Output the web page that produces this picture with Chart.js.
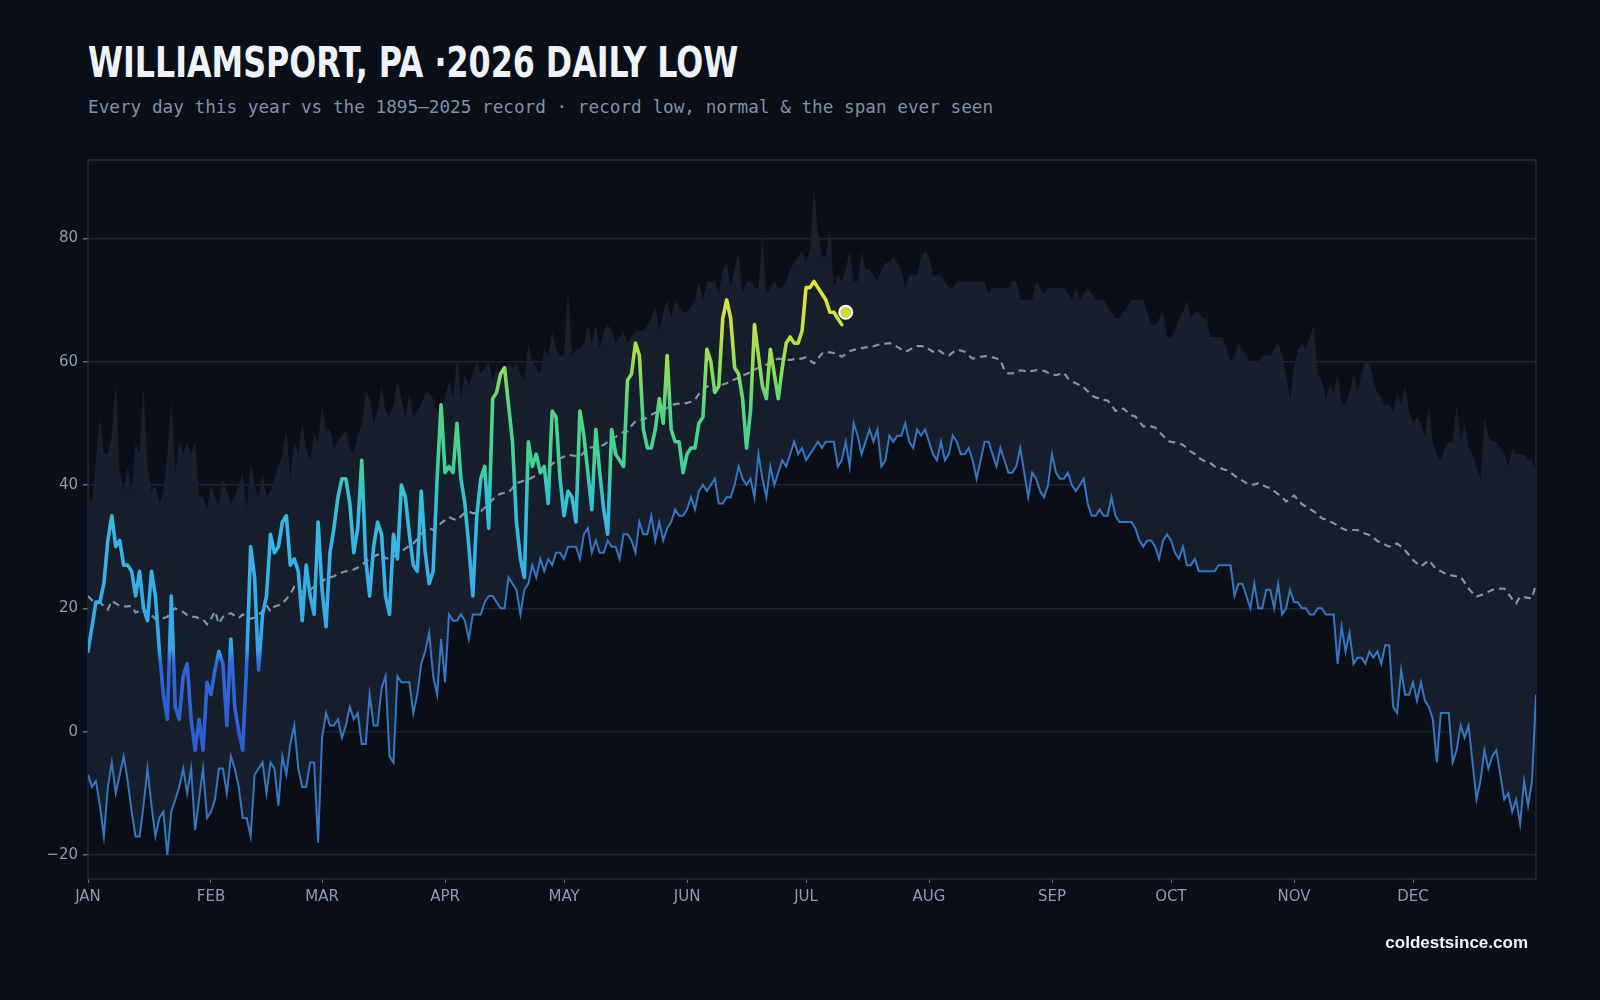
<!DOCTYPE html>
<html lang="en">
<head>
<meta charset="UTF-8">
<title>Williamsport, PA 2026 daily low</title>
<script src="https://cdn.jsdelivr.net/npm/chart.js@4.4.1/dist/chart.umd.min.js"></script>
<style>
    html, body {
        margin: 0;
        padding: 0;
        background: #0a0e16;
        width: 1600px;
        height: 1000px;
        overflow: hidden;
    }
    #title {
        position: absolute;
        left: 88px;
        top: 41px;
        margin: 0;
        font-family: "DejaVu Sans Condensed", "DejaVu Sans", sans-serif;
        font-weight: 700;
        font-size: 42px;
        line-height: 43px;
        color: #eef3fa;
        white-space: nowrap;
        transform-origin: 0 0;
    }
    #subtitle {
        position: absolute;
        left: 88px;
        top: 97px;
        margin: 0;
        font-family: "DejaVu Sans Mono", monospace;
        font-size: 17.7px;
        line-height: 20px;
        color: #7f92a9;
        white-space: nowrap;
    }
    #source {
        position: absolute;
        right: 72px;
        top: 933px;
        font-family: "Liberation Sans", Arial, sans-serif;
        font-weight: 700;
        font-size: 17px;
        line-height: 20px;
        color: #f2f5fa;
    }
    #chart {
        position: absolute;
        left: 0;
        top: 0;
    }
</style>
</head>
<body>
<h1 id="title">WILLIAMSPORT, PA ·2026 DAILY LOW</h1>
<p id="subtitle">Every day this year vs the 1895–2025 record · record low, normal &amp; the span ever seen</p>
<canvas id="chart" width="1600" height="1000"></canvas>
<div id="source">coldestsince.com</div>

<script>
    // x axis: day of year, 0 = Jan 1
    const monthLabels = ['JAN', 'FEB', 'MAR', 'APR', 'MAY', 'JUN', 'JUL', 'AUG', 'SEP', 'OCT', 'NOV', 'DEC'];
    const monthStarts = [0, 31, 59, 90, 120, 151, 181, 212, 243, 273, 304, 334];
    const yTicks = [-20, 0, 20, 40, 60, 80];

    // highest daily low ever seen, 1895-2025 (one value per day)
    const recordHigh = [
        38, 37, 44, 51, 45, 45, 48, 57, 42, 39, 43, 39, 47, 45, 56, 43, 39, 40, 37, 39, 45, 54, 42, 47, 45, 47, 45, 47, 38, 38, 36,
        40, 38, 37, 41, 39, 37, 38, 40, 42, 36, 44, 40, 38, 42, 38, 39, 41, 43, 45, 49, 41, 47, 45, 50, 46, 44, 48, 47,
        53, 49, 49, 46, 47, 48, 49, 46, 45, 48, 50, 55, 54, 50, 52, 56, 52, 51, 53, 57, 54, 51, 55, 51, 52, 53, 55, 55, 54, 52, 52,
        54, 57, 54, 61, 54, 58, 56, 58, 60, 58, 59, 60, 57, 59, 57, 59, 60, 59, 60, 58, 57, 63, 60, 59, 58, 62, 61, 65, 62, 61,
        61, 72, 61, 62, 62, 63, 66, 63, 66, 62, 65, 66, 65, 63, 64, 65, 63, 64, 65, 65, 65, 66, 67, 69, 65, 68, 70, 67, 70, 69, 68,
        68, 69, 70, 73, 70, 73, 73, 73, 71, 75, 76, 72, 75, 78, 71, 73, 73, 72, 72, 80, 71, 72, 73, 72, 72, 73, 75, 76, 77, 78,
        76, 78, 88, 81, 77, 77, 82, 72, 74, 73, 75, 78, 73, 73, 78, 75, 75, 74, 73, 75, 76, 76, 77, 76, 75, 72, 74, 74, 74, 77, 78,
        77, 74, 74, 74, 73, 72, 72, 73, 73, 73, 73, 73, 73, 73, 73, 71, 72, 72, 72, 72, 72, 73, 73, 70, 70, 70, 70, 73, 72, 71, 72,
        72, 72, 72, 72, 71, 70, 72, 70, 71, 72, 71, 70, 70, 70, 69, 68, 67, 67, 68, 69, 70, 70, 70, 70, 68, 66, 66, 67, 68, 64,
        64, 65, 67, 68, 70, 67, 68, 68, 67, 67, 64, 64, 64, 64, 62, 60, 61, 63, 62, 61, 60, 60, 60, 61, 61, 61, 62, 63, 61, 58, 54,
        59, 62, 63, 62, 64, 66, 58, 57, 54, 56, 55, 58, 53, 53, 55, 58, 55, 58, 60, 60, 57, 55, 54, 53, 53, 52, 55, 53, 56, 52,
        50, 51, 50, 48, 53, 47, 45, 44, 46, 47, 47, 53, 47, 50, 46, 45, 43, 41, 51, 48, 47, 47, 46, 45, 43, 46, 45, 45, 45, 44, 44, 42
    ];

    // lowest daily low ever seen, 1895-2025
    const recordLow = [
        -7, -9, -8, -12, -17, -9, -5, -10, -7, -4, -8, -13, -17, -17, -12, -6, -12, -17, -14, -13, -20, -13, -11, -9, -6, -10, -6, -16, -11, -6, -14,
        -13, -11, -6, -6, -10, -4, -6, -9, -14, -14, -17, -7, -6, -5, -10, -5, -6, -12, -4, -7, -2, 1, -6, -9, -9, -5, -5, -18,
        -1, 3, 1, 1, 2, -1, 1, 4, 2, 3, -2, -2, 6, 1, 1, 7, 9, -4, -5, 9, 8, 8, 8, 3, 6, 11, 13, 16, 9, 6, 15,
        8, 19, 18, 18, 19, 18, 15, 19, 19, 19, 21, 22, 22, 21, 20, 20, 25, 24, 23, 19, 23, 24, 27, 25, 28, 26, 28, 27, 29, 29,
        28, 30, 30, 30, 28, 32, 33, 29, 31, 29, 29, 31, 30, 30, 28, 32, 32, 31, 29, 34, 32, 32, 35, 31, 34, 31, 33, 34, 36, 35, 35,
        36, 38, 36, 39, 40, 39, 40, 41, 37, 37, 38, 38, 40, 43, 41, 40, 41, 38, 45, 41, 38, 43, 40, 42, 44, 43, 45, 47, 45, 46,
        44, 45, 46, 47, 46, 47, 47, 47, 43, 44, 47, 43, 50, 48, 45, 47, 49, 47, 49, 43, 44, 48, 47, 48, 48, 50, 47, 46, 49, 48, 49,
        47, 45, 44, 47, 44, 45, 48, 47, 45, 45, 46, 44, 41, 44, 47, 47, 45, 43, 46, 44, 42, 42, 43, 46, 42, 38, 42, 41, 39, 38, 40,
        45, 42, 41, 41, 42, 40, 39, 40, 41, 37, 35, 35, 36, 35, 35, 38, 35, 34, 34, 34, 34, 33, 31, 30, 31, 31, 30, 28, 31, 32,
        31, 29, 28, 30, 27, 27, 28, 26, 26, 26, 26, 26, 27, 27, 27, 27, 22, 24, 24, 22, 20, 24, 20, 20, 23, 23, 20, 24, 19, 20, 23,
        21, 21, 20, 20, 19, 19, 20, 20, 19, 19, 19, 11, 17, 13, 16, 11, 12, 12, 11, 13, 12, 13, 11, 14, 14, 4, 3, 10, 6, 6,
        8, 5, 8, 5, 4, 2, -5, 3, 3, 3, -5, -3, 1, -1, 1, -5, -11, -8, -3, -6, -4, -3, -7, -11, -10, -13, -11, -15, -8, -12, -8, 6
    ];

    // normal daily low
    const normalLow = [
        22, 21.3, 21.2, 21, 20.3, 19.8, 21.2, 20.8, 20.4, 20.3, 20.3, 20.4, 19.3, 19.6, 20, 19.2, 18.9, 18.3, 18.3, 18.4, 18.6, 19.5, 20, 19.6, 19.4, 18.9, 18.6, 18.6, 18.4, 18.2, 17.4,
        18.3, 19.5, 17.5, 18.6, 19, 19.2, 18.8, 18.4, 19, 18.6, 18.3, 18.5, 19, 19.5, 20.5, 19.5, 20.3, 20.5, 20.8, 21.5, 22.3, 23.5, 23.2, 22.7, 23, 23, 23.5, 24,
        24.3, 24.9, 25, 25.2, 25.5, 25.8, 26, 26.1, 26.3, 26.6, 27, 27.6, 28, 28.4, 28.7, 28.9, 28.1, 28.1, 28.3, 28.8, 29.2, 29.7, 30.1, 30.5, 31.2, 32, 32.8, 33, 32.7, 33.2, 33.8,
        34.3, 34.8, 34.5, 34.3, 34.9, 35.5, 35.7, 35.4, 35.5, 35.7, 36.3, 37, 37.6, 38.2, 38.6, 38.7, 38.8, 39.5, 40.3, 40.5, 40.7, 40.9, 41.2, 41.6, 41.9, 42.4, 43, 43.4, 43.9, 44.3,
        44.6, 44.9, 44.8, 44.7, 44.6, 45.3, 46, 46.1, 46.2, 46.3, 46.5, 47, 47.4, 47.8, 48.2, 48.6, 48.7, 49.6, 50.3, 50.5, 50.6, 51, 51.4, 51.7, 52, 52.2, 52.5, 52.9, 53.1, 53.2, 53.2,
        53.3, 53.5, 53.8, 54.8, 55.4, 56, 55.8, 55.2, 55.8, 56.3, 56.5, 56.9, 57.1, 57.4, 57.8, 58, 58.3, 58.7, 59, 59.2, 59.5, 59.8, 60.2, 60.5, 60.4, 60.3, 60.3, 60.4, 60.5, 60.5,
        60.7, 60.2, 59.7, 60.5, 61.3, 61.6, 61.5, 61.4, 61.2, 60.8, 61.2, 61.7, 61.9, 62, 62.2, 62.3, 62.4, 62.5, 62.7, 62.8, 62.9, 63, 62.8, 62.4, 62, 61.6, 61.9, 62.3, 62.5, 62.5, 62.4,
        62, 61.6, 62, 61.6, 61.1, 61, 61.5, 61.9, 61.8, 61.6, 61, 60.5, 60.6, 60.8, 60.9, 60.8, 60.7, 60.5, 60.3, 58.6, 58.1, 58.1, 58.3, 58.6, 58.5, 58.4, 58.5, 58.6, 58.6, 58.5, 58.2,
        58, 57.8, 58, 58.2, 57.3, 56.8, 56.5, 56.2, 55.8, 55.2, 54.5, 54.2, 54, 53.8, 53.7, 53, 52, 52.1, 52.4, 51.8, 51.3, 51.1, 50.3, 49.5, 49.5, 49.5, 49.3, 48.6, 48, 47.2,
        47, 46.9, 46.8, 46.5, 46, 45.4, 45, 44.4, 44, 43.8, 43.5, 43, 42.9, 42.6, 42.4, 42, 41.5, 41.1, 40.7, 40.3, 40, 40.1, 40.3, 40, 39.7, 39.5, 39, 38.5, 38, 37.3, 37.8,
        38.3, 37.6, 36.9, 36.5, 36.1, 35.7, 35.2, 34.6, 34.4, 34.1, 33.8, 33.4, 33, 32.7, 32.7, 32.7, 32.7, 32.4, 32.1, 31.9, 31.5, 30.9, 30.6, 30.3, 30, 30.3, 30.5, 30, 29.4, 28.6,
        27.8, 27.3, 26.8, 27.3, 27.8, 27, 26.3, 26, 25.7, 25.4, 25.3, 25.2, 25.1, 24.2, 23.2, 22.5, 21.9, 22.1, 22.4, 22.7, 23, 23.1, 23.2, 23.2, 22.4, 21.5, 20.8, 21.9, 21.8, 21.7, 21.6, 24
    ];

    // 2026 observed daily low, Jan 1 .. Jul 10
    const lows2026 = [
        13, 17, 21, 21, 24, 31, 35, 30, 31, 27, 27, 26, 22, 26, 20, 18, 26, 22, 13, 6, 2, 22, 4, 2, 9, 11, 2, -3, 2, -3, 8,
        6, 10, 13, 11, 1, 15, 4, 0, -3, 11, 30, 25, 10, 19, 22, 32, 29, 30, 34, 35, 27, 28, 26, 18, 27, 22, 19, 34,
        23, 17, 29, 33, 38, 41, 41, 37, 29, 33, 44, 28, 22, 30, 34, 32, 22, 19, 32, 28, 40, 38, 32, 27, 26, 39, 29, 24, 26, 41, 53,
        42, 43, 42, 50, 41, 37, 30, 22, 35, 41, 43, 33, 54, 55, 58, 59, 53, 47, 34, 28, 25, 47, 43, 45, 42, 43, 37, 52, 51, 41,
        35, 39, 38, 34, 52, 48, 42, 36, 49, 42, 36, 32, 49, 45, 44, 43, 57, 58, 63, 61, 49, 46, 46, 49, 54, 50, 61, 49, 47, 47, 42,
        45, 46, 46, 50, 51, 62, 60, 55, 56, 67, 70, 67, 59, 58, 54, 46, 52, 66, 61, 56, 54, 62, 58, 54, 59, 63, 64, 63, 63, 65,
        72, 72, 73, 72, 71, 70, 68, 68, 67, 66
    ];

    // latest reading, marked with a dot
    const latestDay = 191;
    const latestLow = 68;

    // colour of the 2026 line by temperature (value, colour)
    const tempColorStops = [
        [-5, '#2d5bd2'], [11, '#3066d8'], [13.5, '#37a6e8'], [30, '#38b4e6'], [38, '#36c0d4'],
        [40.5, '#39c8bc'], [42.5, '#42d09a'], [52, '#52d488'], [58, '#86dc5c'], [64, '#b8e04a'],
        [70, '#dce43e'], [76, '#e4e03a']
    ];

    // squeeze the title to the width of the original condensed face
    const titleEl = document.getElementById('title');
    titleEl.style.transform = 'scaleX(' + (650 / titleEl.offsetWidth) + ')';

    const toPoints = arr => arr.map((v, i) => ({ x: i, y: v }));

    function tempGradient(context) {
        const chart = context.chart;
        if (!chart.chartArea) return '#38b4e6';
        const yScale = chart.scales.y;
        const first = tempColorStops[0][0];
        const last = tempColorStops[tempColorStops.length - 1][0];
        const g = chart.ctx.createLinearGradient(0, yScale.getPixelForValue(first), 0, yScale.getPixelForValue(last));
        tempColorStops.forEach(([t, c]) => g.addColorStop((t - first) / (last - first), c));
        return g;
    }

    // plot frame, drawn under the data
    const framePlugin = {
        id: 'frame',
        beforeDatasetsDraw(chart) {
            const { ctx, chartArea: a } = chart;
            ctx.save();
            ctx.strokeStyle = '#1f2b3b';
            ctx.lineWidth = 1.5;
            ctx.strokeRect(a.left, a.top, a.right - a.left, a.bottom - a.top);
            ctx.restore();
        }
    };

    const tickFont = { family: 'DejaVu Sans', size: 15 };

    new Chart(document.getElementById('chart').getContext('2d'), {
        type: 'line',
        data: {
            datasets: [
                {
                    label: 'Latest',
                    data: [{ x: latestDay, y: latestLow }],
                    showLine: false,
                    pointRadius: 6.5,
                    pointBackgroundColor: '#cdd944',
                    pointBorderColor: '#ffffff',
                    pointBorderWidth: 2,
                    order: 0
                },
                {
                    label: '2026',
                    data: toPoints(lows2026),
                    borderColor: tempGradient,
                    borderWidth: 3.6,
                    borderJoinStyle: 'round',
                    borderCapStyle: 'round',
                    pointRadius: 0,
                    tension: 0,
                    order: 1
                },
                {
                    label: 'Normal',
                    data: toPoints(normalLow),
                    borderColor: '#8093aa',
                    borderWidth: 2.2,
                    borderDash: [7, 5],
                    pointRadius: 0,
                    order: 2
                },
                {
                    label: 'Record low',
                    data: toPoints(recordLow),
                    borderColor: '#3776c0',
                    borderWidth: 2,
                    pointRadius: 0,
                    order: 3
                },
                {
                    label: 'Record span',
                    data: toPoints(recordHigh),
                    borderWidth: 0,
                    borderColor: 'rgba(0,0,0,0)',
                    backgroundColor: '#171f2c',
                    fill: 3,
                    pointRadius: 0,
                    order: 4
                }
            ]
        },
        options: {
            responsive: false,
            devicePixelRatio: 1,
            animation: false,
            events: [],
            layout: { padding: { top: 160, right: 64, left: 0, bottom: 0 } },
            plugins: {
                legend: { display: false },
                tooltip: { enabled: false }
            },
            scales: {
                x: {
                    type: 'linear',
                    min: 0,
                    max: 365,
                    afterFit(scale) { scale.height = 121; },
                    afterBuildTicks(scale) { scale.ticks = monthStarts.map(v => ({ value: v })); },
                    border: { display: false },
                    grid: { drawOnChartArea: false, drawTicks: true, tickLength: 4, tickColor: '#5d6f86' },
                    ticks: {
                        color: '#8b9cb2',
                        font: tickFont,
                        padding: 5,
                        maxRotation: 0,
                        autoSkip: false,
                        callback: v => monthLabels[monthStarts.indexOf(v)]
                    }
                },
                y: {
                    min: -23.9,
                    max: 92.7,
                    afterFit(scale) { scale.width = 88; },
                    afterBuildTicks(scale) { scale.ticks = yTicks.map(v => ({ value: v })); },
                    border: { display: false },
                    grid: { color: '#1a2433', lineWidth: 1.5, drawTicks: true, tickLength: 5, tickColor: '#5d6f86' },
                    ticks: {
                        color: '#8b9cb2',
                        font: tickFont,
                        padding: 5,
                        callback: v => String(v).replace('-', '\u2212')
                    }
                }
            }
        },
        plugins: [framePlugin]
    });
</script>
</body>
</html>
